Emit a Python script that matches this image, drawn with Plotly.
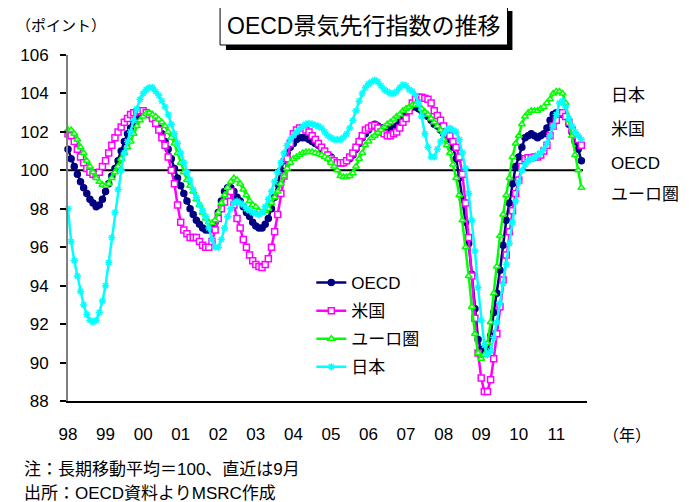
import plotly.graph_objects as go

# ---- data (monthly, Jan 1998 - Sep 2011) ----
year_labels = ["98", "99", "00", "01", "02", "03", "04", "05", "06", "07", "08", "09", "10", "11"]
series_names = ["OECD", "米国", "ユーロ圏", "日本"]

oecd = [
    101.1, 100.6, 100.2, 99.8, 99.4, 99.1, 98.8, 98.5, 98.3, 98.1, 98.2, 98.5,
    98.9, 99.3, 99.7, 100.1, 100.5, 101.0, 101.5, 101.9, 102.2, 102.4, 102.7, 102.9,
    103.0, 103.0, 102.9, 102.7, 102.5, 102.2, 101.9, 101.5, 101.1, 100.6, 100.1, 99.6,
    99.2, 98.8, 98.4, 98.0, 97.7, 97.4, 97.2, 97.0, 96.9, 96.9, 97.0, 97.3,
    97.8, 98.4, 98.9, 99.1, 99.1, 98.9, 98.6, 98.4, 98.1, 97.8, 97.6, 97.3,
    97.1, 97.0, 97.0, 97.2, 97.5, 98.0, 98.6, 99.3, 100.0, 100.5, 100.9, 101.2,
    101.4, 101.6, 101.7, 101.7, 101.7, 101.6, 101.5, 101.4, 101.3, 101.1, 100.9, 100.8,
    100.7, 100.5, 100.4, 100.4, 100.4, 100.5, 100.6, 100.8, 101.1, 101.4, 101.7, 101.9,
    102.1, 102.3, 102.4, 102.3, 102.2, 102.2, 102.2, 102.2, 102.2, 102.3, 102.5, 102.8,
    103.0, 103.2, 103.3, 103.3, 103.2, 103.1, 102.9, 102.8, 102.6, 102.4, 102.3, 102.1,
    101.9, 101.8, 101.6, 101.2, 100.6, 99.6, 98.5, 97.3, 96.2, 94.6, 92.8, 91.2,
    90.7, 90.5, 90.6, 91.4, 92.6, 93.6, 94.8, 96.1, 97.4, 98.3, 99.3, 100.2,
    100.7, 101.2, 101.7, 101.8, 101.9, 101.8, 101.7, 101.8, 101.9, 102.2, 102.6, 102.9,
    103.0, 103.0, 102.9, 102.8, 102.4, 102.0, 101.5, 101.1, 100.5,
]

usa = [
    101.9, 101.8, 101.5, 101.1, 100.7, 100.4, 100.1, 99.9, 99.8, 99.75, 99.9, 100.2,
    100.5, 100.9, 101.3, 101.7, 102.0, 102.25, 102.5, 102.7, 102.9, 103.0, 103.05, 103.1,
    103.1, 103.0, 102.9, 102.7, 102.45, 102.1, 101.7, 101.3, 100.7, 100.0, 99.3, 98.2,
    97.3, 96.9, 96.7, 96.5, 96.5, 96.5, 96.3, 96.1, 96.0, 96.0, 96.3, 96.9,
    97.5, 98.0, 98.35, 98.7, 98.9, 98.2, 97.5, 97.0, 96.4, 96.0, 95.6, 95.3,
    95.1, 95.0, 94.95, 95.1, 95.4, 96.0, 96.8, 97.7, 98.8, 99.7, 100.6, 101.4,
    101.9, 102.1, 102.2, 102.2, 102.1, 102.0, 101.8, 101.6, 101.4, 101.2, 101.0, 100.8,
    100.6, 100.5, 100.4, 100.4, 100.4, 100.5, 100.7, 100.9, 101.2, 101.5, 101.8, 102.1,
    102.2, 102.3, 102.35, 102.2, 102.0, 101.9, 101.8, 101.8, 101.9, 102.0, 102.2, 102.5,
    102.7, 103.1, 103.5, 103.7, 103.8, 103.8, 103.75, 103.7, 103.5, 103.1, 102.85, 102.6,
    102.3, 102.0, 101.8, 101.5, 101.2, 100.7, 99.8, 98.3, 96.5, 94.5, 92.3, 90.5,
    89.2, 88.5, 88.5, 89.1, 90.2, 91.5, 92.9, 94.3, 95.6, 96.8, 97.9, 98.8,
    99.5, 100.2, 100.6, 100.65, 100.65, 100.7, 100.7, 100.8, 101.0, 101.3, 101.8, 102.3,
    102.6, 103.0, 103.0, 102.8, 102.5, 102.1, 101.8, 101.6, 101.3,
]

euro = [
    102.1, 102.1, 101.9, 101.6, 101.2, 100.9, 100.5, 100.2, 99.9, 99.6, 99.4, 99.25,
    99.2, 99.3, 99.6, 99.9, 100.2, 100.6, 100.9, 101.2, 101.5, 101.9, 102.3, 102.6,
    102.8, 102.95, 103.0, 102.9, 102.8, 102.65, 102.5, 102.3, 102.0, 101.7, 101.4, 100.9,
    100.4, 99.9, 99.5, 99.2, 98.9, 98.5, 98.2, 97.8, 97.5, 97.3, 97.25, 97.4,
    97.8, 98.3, 98.7, 99.1, 99.4, 99.6, 99.5, 99.3, 99.0, 98.7, 98.4, 98.2,
    98.1, 97.9, 97.8, 97.9, 98.0, 98.3, 98.6, 98.9, 99.3, 99.7, 100.1, 100.4,
    100.6, 100.7, 100.8, 100.9, 100.95, 100.95, 100.95, 100.9, 100.85, 100.8, 100.7, 100.6,
    100.4, 100.2, 100.0, 99.7, 99.65, 99.65, 99.7, 99.85, 100.2, 100.6, 100.9, 101.3,
    101.5, 101.7, 101.8, 101.95, 102.1, 102.25, 102.4, 102.5, 102.65, 102.8, 102.9, 103.1,
    103.2, 103.3, 103.4, 103.4, 103.4, 103.2, 103.05, 102.9, 102.7, 102.5, 102.3, 102.1,
    101.6, 101.3, 100.9, 100.3, 99.6, 98.7, 97.4, 96.0, 94.5, 92.9, 91.5, 90.5,
    90.2, 90.4, 91.0, 92.1, 93.6, 95.0, 96.6, 97.7, 98.7, 99.6, 100.7, 101.4,
    101.8, 102.4, 102.8, 103.0, 103.1, 103.1, 103.1, 103.2, 103.3, 103.5, 103.7, 104.0,
    104.1, 104.1, 104.0, 103.5, 102.6, 101.8, 100.8, 100.0, 99.1,
]

japan = [
    98.0, 96.3, 95.3, 94.5, 93.7, 93.0, 92.5, 92.2, 92.1, 92.2, 92.6, 93.2,
    94.0, 95.2, 96.5, 97.8, 99.0, 100.0, 100.9, 101.5, 102.0, 102.6, 103.2, 103.7,
    104.0, 104.2, 104.3, 104.3, 104.1, 103.9, 103.6, 103.3, 102.9, 102.4, 101.9, 101.4,
    100.9, 100.4, 99.9, 99.5, 99.0, 98.6, 98.2, 97.9, 97.6, 97.0, 96.4, 96.0,
    96.0, 96.4, 97.0, 97.6, 98.0, 98.3, 98.4, 98.3, 98.2, 98.0, 97.9, 97.8,
    97.75, 97.7, 97.8, 98.1, 98.5, 98.9, 99.4, 99.9, 100.4, 100.9, 101.3, 101.6,
    101.8, 102.0, 102.15, 102.3, 102.4, 102.45, 102.4, 102.35, 102.3, 102.2, 102.0, 101.8,
    101.7, 101.6, 101.6, 101.6, 101.7, 101.9, 102.2, 102.6, 103.1, 103.6, 104.0, 104.3,
    104.5, 104.6, 104.7, 104.6, 104.4, 104.2, 104.1, 104.0, 104.0, 104.1, 104.3, 104.45,
    104.4, 104.2, 104.1, 103.9, 103.5, 102.8, 101.9, 101.2, 100.7, 100.7, 101.1, 101.5,
    101.9, 102.1, 102.2, 102.1, 102.0, 101.6, 100.9, 100.1, 98.8, 97.4, 95.8, 93.9,
    92.2, 90.9, 90.4, 90.6, 91.3, 92.1, 93.1, 94.1, 95.1, 96.2, 97.3, 98.4,
    99.4, 100.0, 100.3, 100.5, 100.6, 100.65, 100.8, 100.9, 101.1, 101.4, 101.8, 102.3,
    102.9, 103.5, 103.6, 103.3, 102.7, 102.3, 102.0, 101.8, 101.6,
]

months = list(range(len(oecd)))
tick_positions = [12 * i for i in range(len(year_labels))]

FONT = "Liberation Sans, Arial, Noto Sans CJK JP, sans-serif"
JFONT = "Liberation Sans, Noto Sans CJK JP, sans-serif"

# the page body has an 8px margin; work in page pixels and convert
OFF = 8
L, R, T, B = 58 - OFF, 587 - OFF, 55 - OFF, 401 - OFF
W, H = 694 - OFF, 502 - OFF


def px_x(px):
    return (px - OFF - L) / (R - L)


def px_y(py):
    return (B - (py - OFF)) / (B - T)


fig = go.Figure()

styles = [
    dict(color="#000080", symbol="circle", fill="#000080"),
    dict(color="#FF00FF", symbol="square", fill="white"),
    dict(color="#00FF00", symbol="triangle-up", fill="white"),
    dict(color="#00FFFF", symbol="asterisk-open", fill="#00FFFF"),
]

for name, vals, st in zip(series_names, [oecd, usa, euro, japan], styles):
    fig.add_trace(go.Scatter(
        x=months, y=vals, name=name, legendgroup=name, mode="lines+markers",
        line=dict(color=st["color"], width=2.5),
        marker=dict(symbol=st["symbol"], size=6, color=st["fill"],
                    line=dict(color=st["color"], width=1.5)),
        cliponaxis=False,
    ))

# 100 reference line
fig.add_shape(type="line", xref="x", yref="y", x0=0, x1=164.5, y0=100, y1=100,
              line=dict(color="black", width=2), layer="below")

# title box with shadow
fig.add_shape(type="rect", xref="paper", yref="paper",
              x0=px_x(219), x1=px_x(511), y0=px_y(50), y1=px_y(11),
              fillcolor="black", line=dict(width=0))
fig.add_shape(type="rect", xref="paper", yref="paper",
              x0=px_x(213), x1=px_x(506), y0=px_y(45), y1=px_y(6),
              fillcolor="white", line=dict(color="black", width=1))

ann = []
ann.append(dict(text="OECD景気先行指数の推移", x=px_x(359), y=px_y(26), xref="paper", yref="paper",
                showarrow=False, font=dict(size=23, color="black", family=JFONT),
                xanchor="center", yanchor="middle"))
ann.append(dict(text="（ポイント）", x=px_x(3), y=px_y(25), xref="paper", yref="paper",
                showarrow=False, font=dict(size=15, color="black", family=JFONT),
                xanchor="left", yanchor="middle"))
ann.append(dict(text="（年）", x=px_x(601), y=px_y(435), xref="paper", yref="paper",
                showarrow=False, font=dict(size=16, color="black", family=JFONT),
                xanchor="left", yanchor="middle"))
for lab, py in zip(["日本", "米国", "OECD", "ユーロ圏"], [95, 130, 163, 194]):
    ann.append(dict(text=lab, x=px_x(609), y=px_y(py), xref="paper", yref="paper",
                    showarrow=False, font=dict(size=17, color="black", family=JFONT),
                    xanchor="left", yanchor="middle"))
ann.append(dict(text="注：長期移動平均＝100、直近は9月", x=px_x(11), y=px_y(469), xref="paper", yref="paper",
                showarrow=False, font=dict(size=17, color="black", family=JFONT),
                xanchor="left", yanchor="middle"))
ann.append(dict(text="出所：OECD資料よりMSRC作成", x=px_x(11), y=px_y(493), xref="paper", yref="paper",
                showarrow=False, font=dict(size=17, color="black", family=JFONT),
                xanchor="left", yanchor="middle"))

fig.update_layout(
    width=W, height=H, autosize=False,
    margin=dict(l=L, r=W - R, t=T, b=H - B, pad=0),
    paper_bgcolor="white", plot_bgcolor="white",
    font=dict(family=FONT, size=17, color="black"),
    showlegend=True,
    legend=dict(x=px_x(306), y=px_y(265), xanchor="left", yanchor="top",
                bgcolor="rgba(0,0,0,0)", font=dict(size=17, family=JFONT),
                tracegroupgap=3, itemwidth=30),
    annotations=ann,
    xaxis=dict(range=[0, 165.8], tickmode="array", tickvals=tick_positions, ticktext=year_labels,
               showgrid=False, zeroline=False, showline=True, linecolor="black", linewidth=1.5,
               ticks="", ticklabelstandoff=17, tickfont=dict(size=17)),
    yaxis=dict(range=[88, 106], dtick=2, tick0=88, showgrid=False, zeroline=False,
               showline=True, linecolor="#808080", linewidth=2,
               ticks="outside", ticklen=6, tickcolor="black", tickwidth=1.5,
               ticklabelstandoff=8, tickfont=dict(size=17)),
)

fig.write_html("out.html")
